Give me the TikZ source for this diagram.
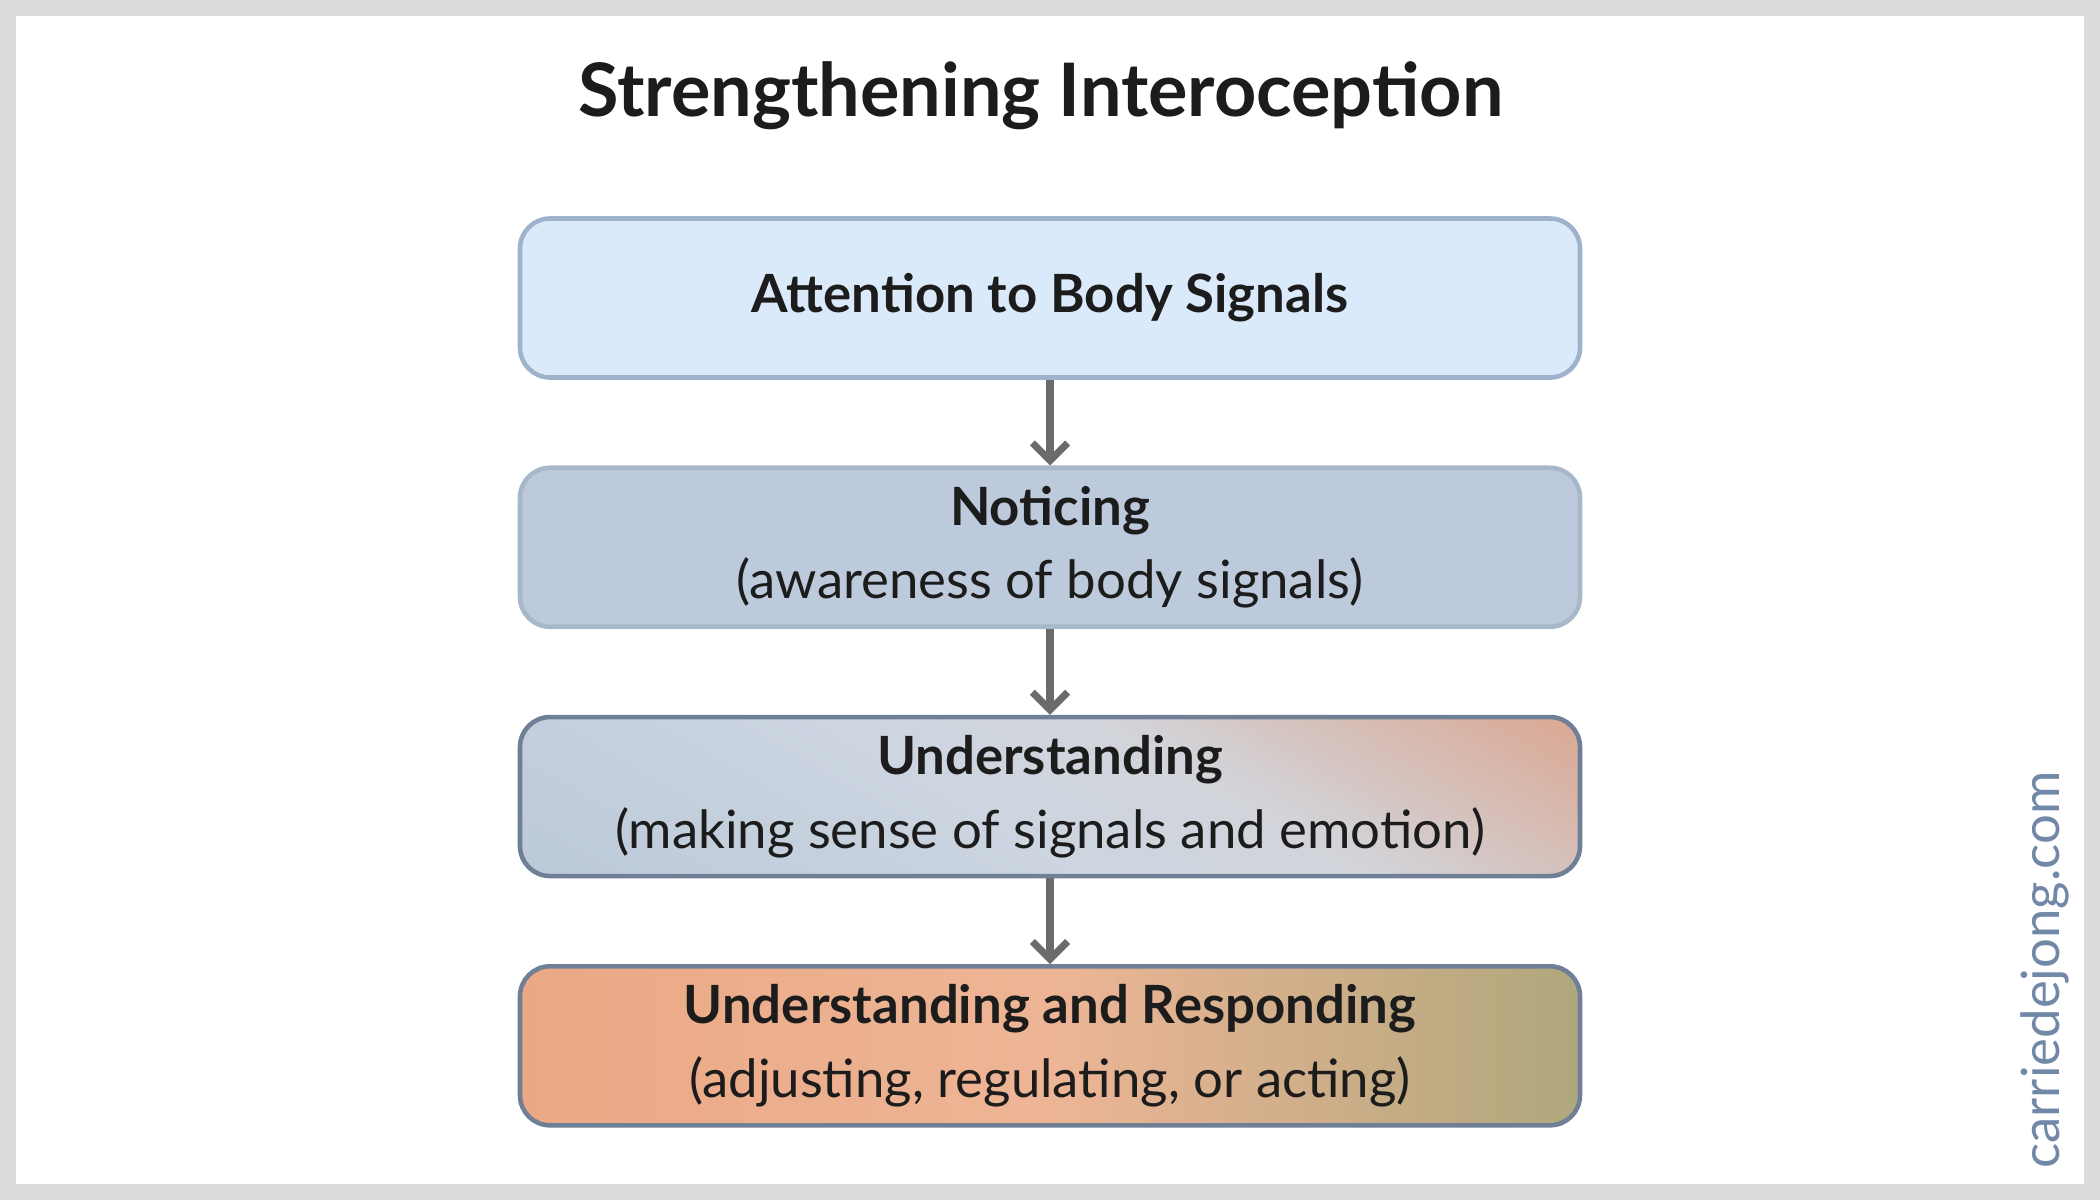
\documentclass[tikz,border=0pt]{standalone}
\usepackage{fontspec}
\setmainfont{Lato}
\usetikzlibrary{positioning,arrows.meta}
\definecolor{frame}{HTML}{DCDCDC}
\definecolor{ink}{HTML}{1C1C1C}
\definecolor{arrowgray}{HTML}{6B6B6B}
\definecolor{sitecol}{HTML}{7288A8}
\definecolor{skyfill}{HTML}{DBEAFB}
\definecolor{skyline}{HTML}{9FB2CC}
\definecolor{slatefill}{HTML}{BDCADB}
\definecolor{slateline}{HTML}{A8B8CB}
\definecolor{darkline}{HTML}{6F7F96}
\definecolor{bA}{HTML}{B3C3D6}
\definecolor{bB}{HTML}{CCD5E0}
\definecolor{bC}{HTML}{D2D4DA}
\definecolor{bD}{HTML}{D9AF9E}
\definecolor{bE}{HTML}{E4966F}
\definecolor{oA}{HTML}{E8956E}
\definecolor{oB}{HTML}{EBA884}
\definecolor{oC}{HTML}{EDB596}
\definecolor{oD}{HTML}{B7A97F}
\definecolor{oE}{HTML}{6D9E69}
\pgfdeclarehorizontalshading{blueorange}{100bp}{
  color(0bp)=(bA); color(45bp)=(bB); color(60bp)=(bC);
  color(80bp)=(bD); color(100bp)=(bE)}
\pgfdeclarehorizontalshading{orangegreen}{100bp}{
  color(0bp)=(oA); color(25bp)=(oB); color(50bp)=(oC);
  color(72bp)=(oD); color(100bp)=(oE)}
\tikzset{
  stage/.style = {draw, line width=1.3pt, rounded corners=0.3cm,
    minimum width=10.6cm, minimum height=1.59cm, align=center,
    font=\fontsize{15}{21}\selectfont, text=ink},
  flow/.style = {-{Straight Barb[length=5pt,width=10pt]}, arrowgray, line width=2pt}
}
\begin{document}
\begin{tikzpicture}[node distance=0.857cm]
  \fill[frame] (0,0) rectangle (21,-12);
  \fill[white] (0.16,-0.16) rectangle (20.84,-11.84);
  \useasboundingbox (0,0) rectangle (21,-12);
  \node[font=\fontsize{21}{25}\selectfont\bfseries, text=ink] (title) at (10.41,-0.96)
    {Strengthening Interoception};
  % the four stages
  \node[stage, fill=skyfill, draw=skyline] (attention) at (10.5,-2.98)
    {\textbf{Attention to Body Signals}};
  \node[stage, fill=slatefill, draw=slateline, below=of attention] (noticing)
    {\textbf{Noticing}\\(awareness of body signals)};
  \node[stage, shading=blueorange, shading angle=60, draw=darkline, below=of noticing] (understanding)
    {\textbf{Understanding}\\(making sense of signals and emotion)};
  \node[stage, shading=orangegreen, draw=darkline, below=of understanding] (responding)
    {\textbf{Understanding and Responding}\\(adjusting, regulating, or acting)};
  \draw[flow] (attention) -- (noticing);
  \draw[flow] (noticing) -- (understanding);
  \draw[flow] (understanding) -- (responding);
  \node[rotate=90, text=sitecol, font=\fontsize{15}{18}\selectfont] (site) at (20.45,-9.7)
    {carriedejong.com};
\end{tikzpicture}
\end{document}
